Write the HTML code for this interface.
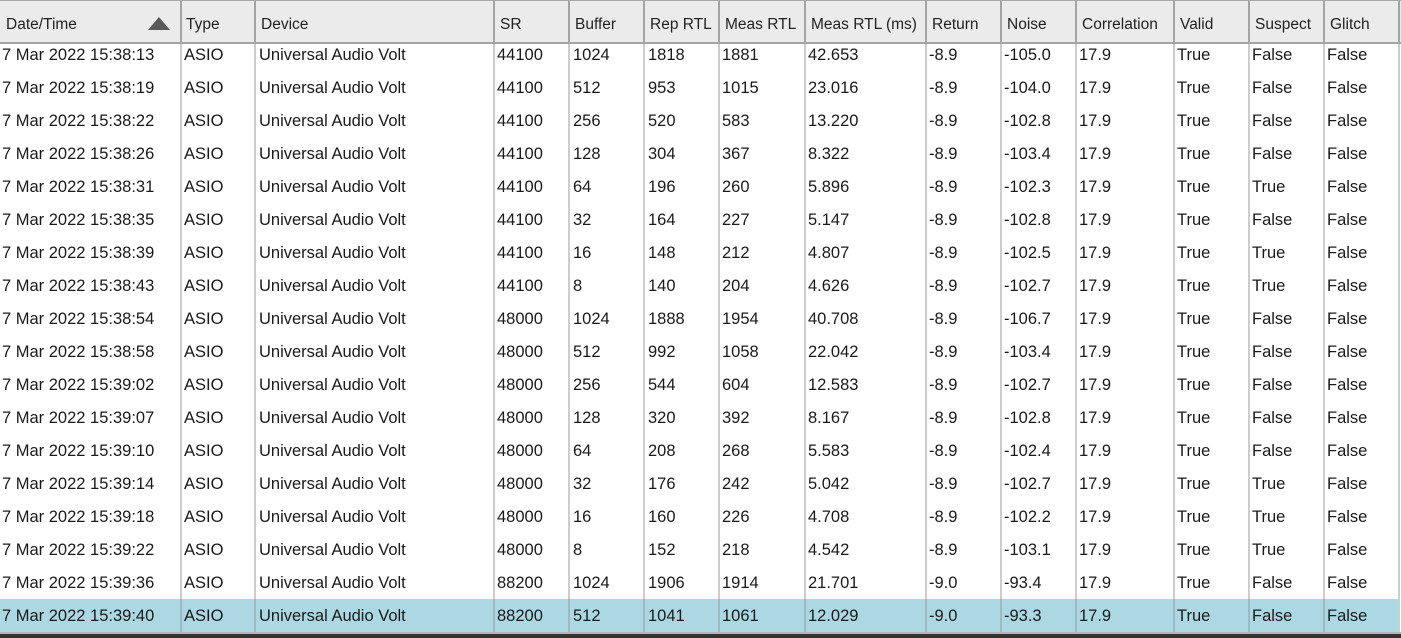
<!DOCTYPE html>
<html>
<head>
<meta charset="utf-8">
<style>
html,body{margin:0;padding:0;}
body{width:1401px;height:638px;overflow:hidden;background:#ffffff;position:relative;font-family:"Liberation Sans",Arial,sans-serif;}
.hdr{position:absolute;left:0;top:0;width:1401px;height:43px;background:#ebebeb;border-top:1px solid #a8a8a8;box-sizing:border-box;z-index:5;}
.hdr .hl{position:absolute;top:0;height:43px;width:2px;background:#a4a4a4;}
.hdr .ht{position:absolute;top:0;line-height:47px;font-size:15.5px;color:#222;white-space:nowrap;}
.hdr .hb{position:absolute;left:0;top:41px;width:1401px;height:2px;background:#a4a4a4;}
.row{position:absolute;left:0;width:1398px;height:33px;}
.row.sel{background:#acd8e4;}
.c{position:absolute;top:0;line-height:34px;font-size:16.5px;color:#1a1a1a;white-space:nowrap;}
.vl{position:absolute;top:0;width:2px;height:632px;background:#cdcdcd;}
.vs{position:absolute;top:599px;width:2px;height:33px;background:#9fb9c2;z-index:2;}
.tri{position:absolute;left:148px;top:16px;width:0;height:0;border-left:11px solid transparent;border-right:11px solid transparent;border-bottom:13px solid #5a5a5a;}
.bot1{position:absolute;left:0;top:632px;width:1401px;height:2px;background:#b4b4b4;z-index:6;}
.bot2{position:absolute;left:0;top:634px;width:1401px;height:4px;background:#353535;z-index:6;}
</style>
</head>
<body>

<div class="vl" style="left:180px"></div>
<div class="vl" style="left:254px"></div>
<div class="vl" style="left:493px"></div>
<div class="vl" style="left:568px"></div>
<div class="vl" style="left:643px"></div>
<div class="vl" style="left:718px"></div>
<div class="vl" style="left:804px"></div>
<div class="vl" style="left:925px"></div>
<div class="vl" style="left:1000px"></div>
<div class="vl" style="left:1075px"></div>
<div class="vl" style="left:1173px"></div>
<div class="vl" style="left:1248px"></div>
<div class="vl" style="left:1323px"></div>
<div class="vl" style="left:1398px"></div>

<div class="vs" style="left:180px"></div>
<div class="vs" style="left:254px"></div>
<div class="vs" style="left:493px"></div>
<div class="vs" style="left:568px"></div>
<div class="vs" style="left:643px"></div>
<div class="vs" style="left:718px"></div>
<div class="vs" style="left:804px"></div>
<div class="vs" style="left:925px"></div>
<div class="vs" style="left:1000px"></div>
<div class="vs" style="left:1075px"></div>
<div class="vs" style="left:1173px"></div>
<div class="vs" style="left:1248px"></div>
<div class="vs" style="left:1323px"></div>

<div class="hdr">
  <div class="ht" style="left:6px">Date/Time</div>
  <div class="tri"></div>
  <div class="hl" style="left:180px"></div><div class="ht" style="left:186px">Type</div>
  <div class="hl" style="left:254px"></div><div class="ht" style="left:261px">Device</div>
  <div class="hl" style="left:493px"></div><div class="ht" style="left:500px">SR</div>
  <div class="hl" style="left:568px"></div><div class="ht" style="left:575px">Buffer</div>
  <div class="hl" style="left:643px"></div><div class="ht" style="left:650px">Rep RTL</div>
  <div class="hl" style="left:718px"></div><div class="ht" style="left:725px">Meas RTL</div>
  <div class="hl" style="left:804px"></div><div class="ht" style="left:811px">Meas RTL (ms)</div>
  <div class="hl" style="left:925px"></div><div class="ht" style="left:932px">Return</div>
  <div class="hl" style="left:1000px"></div><div class="ht" style="left:1007px">Noise</div>
  <div class="hl" style="left:1075px"></div><div class="ht" style="left:1082px">Correlation</div>
  <div class="hl" style="left:1173px"></div><div class="ht" style="left:1180px">Valid</div>
  <div class="hl" style="left:1248px"></div><div class="ht" style="left:1255px">Suspect</div>
  <div class="hl" style="left:1323px"></div><div class="ht" style="left:1330px">Glitch</div>
  <div class="hl" style="left:1398px"></div>
  <div class="hb"></div>
</div>

<div class="row" style="top:38px"><div class="c" style="left:2px">7 Mar 2022 15:38:13</div><div class="c" style="left:184px">ASIO</div><div class="c" style="left:259px">Universal Audio Volt</div><div class="c" style="left:497px">44100</div><div class="c" style="left:573px">1024</div><div class="c" style="left:648px">1818</div><div class="c" style="left:722px">1881</div><div class="c" style="left:808px">42.653</div><div class="c" style="left:929px">-8.9</div><div class="c" style="left:1004px">-105.0</div><div class="c" style="left:1079px">17.9</div><div class="c" style="left:1177px">True</div><div class="c" style="left:1252px">False</div><div class="c" style="left:1327px">False</div></div>
<div class="row" style="top:71px"><div class="c" style="left:2px">7 Mar 2022 15:38:19</div><div class="c" style="left:184px">ASIO</div><div class="c" style="left:259px">Universal Audio Volt</div><div class="c" style="left:497px">44100</div><div class="c" style="left:573px">512</div><div class="c" style="left:648px">953</div><div class="c" style="left:722px">1015</div><div class="c" style="left:808px">23.016</div><div class="c" style="left:929px">-8.9</div><div class="c" style="left:1004px">-104.0</div><div class="c" style="left:1079px">17.9</div><div class="c" style="left:1177px">True</div><div class="c" style="left:1252px">False</div><div class="c" style="left:1327px">False</div></div>
<div class="row" style="top:104px"><div class="c" style="left:2px">7 Mar 2022 15:38:22</div><div class="c" style="left:184px">ASIO</div><div class="c" style="left:259px">Universal Audio Volt</div><div class="c" style="left:497px">44100</div><div class="c" style="left:573px">256</div><div class="c" style="left:648px">520</div><div class="c" style="left:722px">583</div><div class="c" style="left:808px">13.220</div><div class="c" style="left:929px">-8.9</div><div class="c" style="left:1004px">-102.8</div><div class="c" style="left:1079px">17.9</div><div class="c" style="left:1177px">True</div><div class="c" style="left:1252px">False</div><div class="c" style="left:1327px">False</div></div>
<div class="row" style="top:137px"><div class="c" style="left:2px">7 Mar 2022 15:38:26</div><div class="c" style="left:184px">ASIO</div><div class="c" style="left:259px">Universal Audio Volt</div><div class="c" style="left:497px">44100</div><div class="c" style="left:573px">128</div><div class="c" style="left:648px">304</div><div class="c" style="left:722px">367</div><div class="c" style="left:808px">8.322</div><div class="c" style="left:929px">-8.9</div><div class="c" style="left:1004px">-103.4</div><div class="c" style="left:1079px">17.9</div><div class="c" style="left:1177px">True</div><div class="c" style="left:1252px">False</div><div class="c" style="left:1327px">False</div></div>
<div class="row" style="top:170px"><div class="c" style="left:2px">7 Mar 2022 15:38:31</div><div class="c" style="left:184px">ASIO</div><div class="c" style="left:259px">Universal Audio Volt</div><div class="c" style="left:497px">44100</div><div class="c" style="left:573px">64</div><div class="c" style="left:648px">196</div><div class="c" style="left:722px">260</div><div class="c" style="left:808px">5.896</div><div class="c" style="left:929px">-8.9</div><div class="c" style="left:1004px">-102.3</div><div class="c" style="left:1079px">17.9</div><div class="c" style="left:1177px">True</div><div class="c" style="left:1252px">True</div><div class="c" style="left:1327px">False</div></div>
<div class="row" style="top:203px"><div class="c" style="left:2px">7 Mar 2022 15:38:35</div><div class="c" style="left:184px">ASIO</div><div class="c" style="left:259px">Universal Audio Volt</div><div class="c" style="left:497px">44100</div><div class="c" style="left:573px">32</div><div class="c" style="left:648px">164</div><div class="c" style="left:722px">227</div><div class="c" style="left:808px">5.147</div><div class="c" style="left:929px">-8.9</div><div class="c" style="left:1004px">-102.8</div><div class="c" style="left:1079px">17.9</div><div class="c" style="left:1177px">True</div><div class="c" style="left:1252px">False</div><div class="c" style="left:1327px">False</div></div>
<div class="row" style="top:236px"><div class="c" style="left:2px">7 Mar 2022 15:38:39</div><div class="c" style="left:184px">ASIO</div><div class="c" style="left:259px">Universal Audio Volt</div><div class="c" style="left:497px">44100</div><div class="c" style="left:573px">16</div><div class="c" style="left:648px">148</div><div class="c" style="left:722px">212</div><div class="c" style="left:808px">4.807</div><div class="c" style="left:929px">-8.9</div><div class="c" style="left:1004px">-102.5</div><div class="c" style="left:1079px">17.9</div><div class="c" style="left:1177px">True</div><div class="c" style="left:1252px">True</div><div class="c" style="left:1327px">False</div></div>
<div class="row" style="top:269px"><div class="c" style="left:2px">7 Mar 2022 15:38:43</div><div class="c" style="left:184px">ASIO</div><div class="c" style="left:259px">Universal Audio Volt</div><div class="c" style="left:497px">44100</div><div class="c" style="left:573px">8</div><div class="c" style="left:648px">140</div><div class="c" style="left:722px">204</div><div class="c" style="left:808px">4.626</div><div class="c" style="left:929px">-8.9</div><div class="c" style="left:1004px">-102.7</div><div class="c" style="left:1079px">17.9</div><div class="c" style="left:1177px">True</div><div class="c" style="left:1252px">True</div><div class="c" style="left:1327px">False</div></div>
<div class="row" style="top:302px"><div class="c" style="left:2px">7 Mar 2022 15:38:54</div><div class="c" style="left:184px">ASIO</div><div class="c" style="left:259px">Universal Audio Volt</div><div class="c" style="left:497px">48000</div><div class="c" style="left:573px">1024</div><div class="c" style="left:648px">1888</div><div class="c" style="left:722px">1954</div><div class="c" style="left:808px">40.708</div><div class="c" style="left:929px">-8.9</div><div class="c" style="left:1004px">-106.7</div><div class="c" style="left:1079px">17.9</div><div class="c" style="left:1177px">True</div><div class="c" style="left:1252px">False</div><div class="c" style="left:1327px">False</div></div>
<div class="row" style="top:335px"><div class="c" style="left:2px">7 Mar 2022 15:38:58</div><div class="c" style="left:184px">ASIO</div><div class="c" style="left:259px">Universal Audio Volt</div><div class="c" style="left:497px">48000</div><div class="c" style="left:573px">512</div><div class="c" style="left:648px">992</div><div class="c" style="left:722px">1058</div><div class="c" style="left:808px">22.042</div><div class="c" style="left:929px">-8.9</div><div class="c" style="left:1004px">-103.4</div><div class="c" style="left:1079px">17.9</div><div class="c" style="left:1177px">True</div><div class="c" style="left:1252px">False</div><div class="c" style="left:1327px">False</div></div>
<div class="row" style="top:368px"><div class="c" style="left:2px">7 Mar 2022 15:39:02</div><div class="c" style="left:184px">ASIO</div><div class="c" style="left:259px">Universal Audio Volt</div><div class="c" style="left:497px">48000</div><div class="c" style="left:573px">256</div><div class="c" style="left:648px">544</div><div class="c" style="left:722px">604</div><div class="c" style="left:808px">12.583</div><div class="c" style="left:929px">-8.9</div><div class="c" style="left:1004px">-102.7</div><div class="c" style="left:1079px">17.9</div><div class="c" style="left:1177px">True</div><div class="c" style="left:1252px">False</div><div class="c" style="left:1327px">False</div></div>
<div class="row" style="top:401px"><div class="c" style="left:2px">7 Mar 2022 15:39:07</div><div class="c" style="left:184px">ASIO</div><div class="c" style="left:259px">Universal Audio Volt</div><div class="c" style="left:497px">48000</div><div class="c" style="left:573px">128</div><div class="c" style="left:648px">320</div><div class="c" style="left:722px">392</div><div class="c" style="left:808px">8.167</div><div class="c" style="left:929px">-8.9</div><div class="c" style="left:1004px">-102.8</div><div class="c" style="left:1079px">17.9</div><div class="c" style="left:1177px">True</div><div class="c" style="left:1252px">False</div><div class="c" style="left:1327px">False</div></div>
<div class="row" style="top:434px"><div class="c" style="left:2px">7 Mar 2022 15:39:10</div><div class="c" style="left:184px">ASIO</div><div class="c" style="left:259px">Universal Audio Volt</div><div class="c" style="left:497px">48000</div><div class="c" style="left:573px">64</div><div class="c" style="left:648px">208</div><div class="c" style="left:722px">268</div><div class="c" style="left:808px">5.583</div><div class="c" style="left:929px">-8.9</div><div class="c" style="left:1004px">-102.4</div><div class="c" style="left:1079px">17.9</div><div class="c" style="left:1177px">True</div><div class="c" style="left:1252px">False</div><div class="c" style="left:1327px">False</div></div>
<div class="row" style="top:467px"><div class="c" style="left:2px">7 Mar 2022 15:39:14</div><div class="c" style="left:184px">ASIO</div><div class="c" style="left:259px">Universal Audio Volt</div><div class="c" style="left:497px">48000</div><div class="c" style="left:573px">32</div><div class="c" style="left:648px">176</div><div class="c" style="left:722px">242</div><div class="c" style="left:808px">5.042</div><div class="c" style="left:929px">-8.9</div><div class="c" style="left:1004px">-102.7</div><div class="c" style="left:1079px">17.9</div><div class="c" style="left:1177px">True</div><div class="c" style="left:1252px">True</div><div class="c" style="left:1327px">False</div></div>
<div class="row" style="top:500px"><div class="c" style="left:2px">7 Mar 2022 15:39:18</div><div class="c" style="left:184px">ASIO</div><div class="c" style="left:259px">Universal Audio Volt</div><div class="c" style="left:497px">48000</div><div class="c" style="left:573px">16</div><div class="c" style="left:648px">160</div><div class="c" style="left:722px">226</div><div class="c" style="left:808px">4.708</div><div class="c" style="left:929px">-8.9</div><div class="c" style="left:1004px">-102.2</div><div class="c" style="left:1079px">17.9</div><div class="c" style="left:1177px">True</div><div class="c" style="left:1252px">True</div><div class="c" style="left:1327px">False</div></div>
<div class="row" style="top:533px"><div class="c" style="left:2px">7 Mar 2022 15:39:22</div><div class="c" style="left:184px">ASIO</div><div class="c" style="left:259px">Universal Audio Volt</div><div class="c" style="left:497px">48000</div><div class="c" style="left:573px">8</div><div class="c" style="left:648px">152</div><div class="c" style="left:722px">218</div><div class="c" style="left:808px">4.542</div><div class="c" style="left:929px">-8.9</div><div class="c" style="left:1004px">-103.1</div><div class="c" style="left:1079px">17.9</div><div class="c" style="left:1177px">True</div><div class="c" style="left:1252px">True</div><div class="c" style="left:1327px">False</div></div>
<div class="row" style="top:566px"><div class="c" style="left:2px">7 Mar 2022 15:39:36</div><div class="c" style="left:184px">ASIO</div><div class="c" style="left:259px">Universal Audio Volt</div><div class="c" style="left:497px">88200</div><div class="c" style="left:573px">1024</div><div class="c" style="left:648px">1906</div><div class="c" style="left:722px">1914</div><div class="c" style="left:808px">21.701</div><div class="c" style="left:929px">-9.0</div><div class="c" style="left:1004px">-93.4</div><div class="c" style="left:1079px">17.9</div><div class="c" style="left:1177px">True</div><div class="c" style="left:1252px">False</div><div class="c" style="left:1327px">False</div></div>
<div class="row sel" style="top:599px"><div class="c" style="left:2px">7 Mar 2022 15:39:40</div><div class="c" style="left:184px">ASIO</div><div class="c" style="left:259px">Universal Audio Volt</div><div class="c" style="left:497px">88200</div><div class="c" style="left:573px">512</div><div class="c" style="left:648px">1041</div><div class="c" style="left:722px">1061</div><div class="c" style="left:808px">12.029</div><div class="c" style="left:929px">-9.0</div><div class="c" style="left:1004px">-93.3</div><div class="c" style="left:1079px">17.9</div><div class="c" style="left:1177px">True</div><div class="c" style="left:1252px">False</div><div class="c" style="left:1327px">False</div></div>

<div class="bot1"></div>
<div class="bot2"></div>
</body>
</html>
